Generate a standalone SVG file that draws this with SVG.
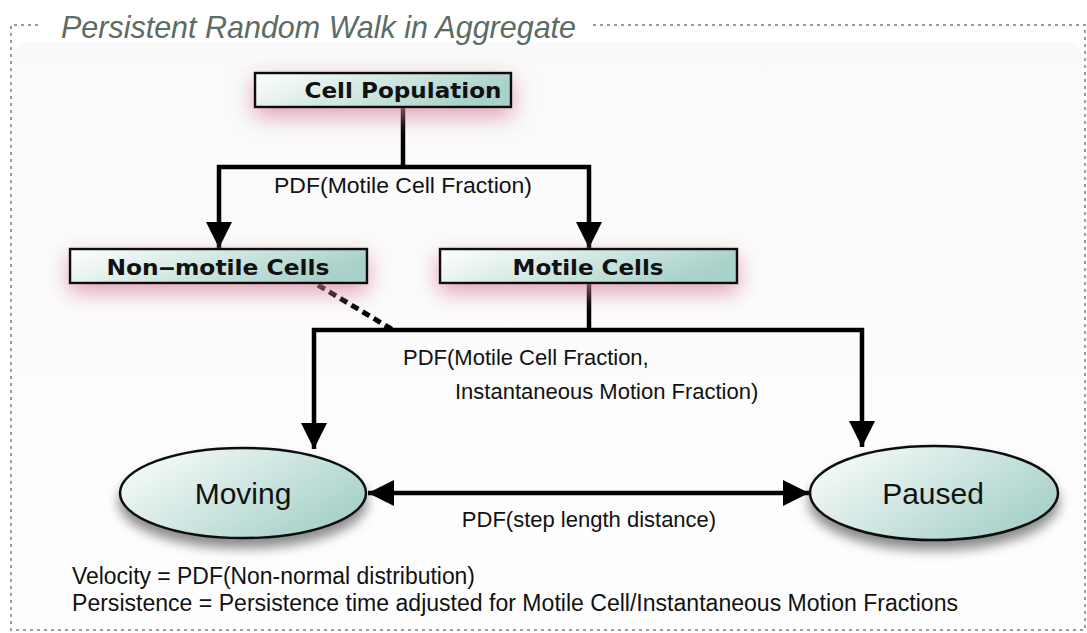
<svg xmlns="http://www.w3.org/2000/svg" width="1087" height="633" viewBox="0 0 1087 633">
<defs>
<linearGradient id="boxGrad" x1="0" y1="0" x2="1" y2="0.3">
<stop offset="0" stop-color="#ffffff"/>
<stop offset="1" stop-color="#a9d2ca"/>
</linearGradient>
<linearGradient id="ellGrad" x1="0" y1="0" x2="1" y2="0.6">
<stop offset="0" stop-color="#ffffff"/>
<stop offset="1" stop-color="#a9d2ca"/>
</linearGradient>
<linearGradient id="panelGrad" x1="0" y1="0" x2="0" y2="1">
<stop offset="0" stop-color="#f9faf9"/>
<stop offset="1" stop-color="#fefefe"/>
</linearGradient>
<filter id="pinkGlow" x="-20%" y="-100%" width="140%" height="340%">
<feGaussianBlur in="SourceAlpha" stdDeviation="11" result="b"/>
<feOffset in="b" dx="0" dy="8" result="o"/>
<feFlood flood-color="#d7829b" flood-opacity="0.75"/>
<feComposite in2="o" operator="in" result="s"/>
<feMerge><feMergeNode in="s"/><feMergeNode in="SourceGraphic"/></feMerge>
</filter>
<filter id="darkShadow" x="-20%" y="-30%" width="140%" height="180%">
<feGaussianBlur in="SourceAlpha" stdDeviation="6" result="b"/>
<feOffset in="b" dx="0" dy="9" result="o"/>
<feFlood flood-color="#000000" flood-opacity="0.45"/>
<feComposite in2="o" operator="in" result="s"/>
<feMerge><feMergeNode in="s"/><feMergeNode in="SourceGraphic"/></feMerge>
</filter>
<marker id="arrow" viewBox="0 0 10 10" refX="10" refY="5" markerUnits="userSpaceOnUse" markerWidth="33" markerHeight="26" orient="auto">
<path d="M0,0 L10,5 L0,10 Z" fill="#000"/>
</marker>
<marker id="arrowH" viewBox="0 0 10 10" refX="10" refY="5" markerUnits="userSpaceOnUse" markerWidth="34" markerHeight="26" orient="auto-start-reverse">
<path d="M0,0 L10,5 L0,10 Z" fill="#000"/>
</marker>
</defs>
<style>
.frame{fill:none;stroke:#8aa595;stroke-width:2;stroke-dasharray:3,4}
.box{fill:url(#boxGrad);stroke:#111;stroke-width:2.5}
.ell{fill:url(#ellGrad);stroke:#111;stroke-width:2.5}
.btxt{font-family:"DejaVu Sans",Verdana,sans-serif;font-weight:bold;font-size:22px;fill:#111;text-anchor:middle}
.etxt{font-family:"Liberation Sans",Arial,sans-serif;font-size:30px;fill:#111;text-anchor:middle}
.lbl{font-family:"Liberation Sans",Arial,sans-serif;font-size:22px;fill:#111}
.note{font-family:"Liberation Sans",Arial,sans-serif;font-size:23px;fill:#111}
.conn{fill:none;stroke:#000;stroke-width:4.5}
.title{font-family:"Liberation Sans",Arial,sans-serif;font-style:italic;font-size:32px;fill:#5b6c62}
</style>
<rect width="1087" height="633" fill="#ffffff"/>
<g id="frame">
<rect x="13" y="42" width="1069" height="584" rx="14" fill="url(#panelGrad)"/>
<path class="frame" d="M38,25 L11,25 L11,630 L1085,630 L1085,25 L590,25"/>
<text class="title" x="61" y="38" textLength="515" lengthAdjust="spacingAndGlyphs">Persistent Random Walk in Aggregate</text>
</g>
<g id="connectors">
<polyline class="conn" points="403,107 403,167"/>
<polyline class="conn" points="403,167 219,167 219,248" marker-end="url(#arrow)"/>
<polyline class="conn" points="403,167 589,167 589,248" marker-end="url(#arrow)"/>
<polyline class="conn" points="589,284 589,330"/>
<polyline class="conn" points="589,330 314,330 314,449" marker-end="url(#arrow)"/>
<polyline class="conn" points="589,330 862,330 862,447" marker-end="url(#arrow)"/>
<line x1="318" y1="285" x2="393" y2="330" stroke="#000" stroke-width="5" stroke-dasharray="8,5"/>
<line x1="368" y1="493" x2="809" y2="493" class="conn" marker-start="url(#arrowH)" marker-end="url(#arrowH)"/>
<text class="lbl" x="403" y="193" text-anchor="middle" textLength="258" lengthAdjust="spacingAndGlyphs">PDF(Motile Cell Fraction)</text>
<text class="lbl" x="403" y="365">PDF(Motile Cell Fraction,</text>
<text class="lbl" x="455" y="399">Instantaneous Motion Fraction)</text>
<text class="lbl" x="589" y="527" text-anchor="middle">PDF(step length distance)</text>
</g>
<g id="cell-population">
<rect class="box" x="255" y="73" width="256" height="34" filter="url(#pinkGlow)"/>
<text class="btxt" x="403" y="98" textLength="197" lengthAdjust="spacingAndGlyphs">Cell Population</text>
</g>
<g id="non-motile-cells">
<rect class="box" x="70" y="249" width="297" height="34" filter="url(#pinkGlow)"/>
<text class="btxt" x="218" y="275" textLength="223" lengthAdjust="spacingAndGlyphs">Non‒motile Cells</text>
</g>
<g id="motile-cells">
<rect class="box" x="440" y="249" width="297" height="34" filter="url(#pinkGlow)"/>
<text class="btxt" x="588" y="275" textLength="151" lengthAdjust="spacingAndGlyphs">Motile Cells</text>
</g>
<g id="moving">
<ellipse class="ell" cx="243" cy="493" rx="123" ry="45" filter="url(#darkShadow)"/>
<text class="etxt" x="243" y="504">Moving</text>
</g>
<g id="paused">
<ellipse class="ell" cx="934" cy="493" rx="124" ry="47" filter="url(#darkShadow)"/>
<text class="etxt" x="933" y="504">Paused</text>
</g>
<g id="notes">
<text class="note" x="72" y="584" textLength="403" lengthAdjust="spacingAndGlyphs">Velocity = PDF(Non-normal distribution)</text>
<text class="note" x="72" y="611" textLength="886" lengthAdjust="spacingAndGlyphs">Persistence = Persistence time adjusted for Motile Cell/Instantaneous Motion Fractions</text>
</g>
</svg>
